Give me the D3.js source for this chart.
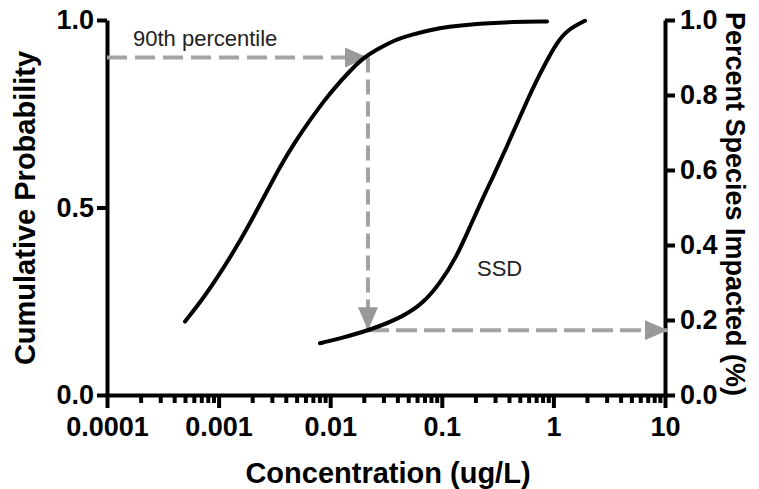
<!DOCTYPE html>
<html lang="en">
<head>
  <meta charset="UTF-8">
  <title>SSD chart</title>
  <style>
    body { margin: 0; background: #fff; }
    text { font-family: "Liberation Sans", Arial, Helvetica, sans-serif; }
  </style>
</head>
<body>
  <div id="svg"></div>
<script src="https://cdn.jsdelivr.net/npm/d3@7"></script>
<script type="text/javascript">
  // exposure curve (cumulative probability)
  const expConc = [0.0005, 0.00073, 0.00103, 0.00145, 0.00205, 0.0027, 0.00355, 0.00484, 0.00659,
    0.00868, 0.0114, 0.015, 0.0198, 0.0261, 0.0344, 0.0394, 0.0556, 0.0784, 0.1106, 0.22, 0.434, 0.877]
  const expProb = [0.196, 0.258, 0.324, 0.395, 0.475, 0.542, 0.609, 0.675, 0.733,
    0.782, 0.825, 0.864, 0.899, 0.921, 0.940, 0.948, 0.962, 0.973, 0.982, 0.991, 0.995, 0.996]

  // species sensitivity distribution
  const ssdConc = [0.0081, 0.01225, 0.0228, 0.0452, 0.0682, 0.0964, 0.136, 0.179, 0.236, 0.288,
    0.382, 0.502, 0.661, 0.877, 1.07, 1.32, 1.92]
  const ssdFrac = [0.138, 0.151, 0.173, 0.209, 0.245, 0.298, 0.369, 0.449, 0.529, 0.582,
    0.662, 0.742, 0.822, 0.893, 0.938, 0.973, 0.998]

  // 90th percentile read-off
  const p90 = 0.9
  const p90Conc = 0.0218
  const p90Impacted = 0.173

  const xMajor = [0.0001, 0.001, 0.01, 0.1, 1, 10]
  const xMajorLabels = ["0.0001", "0.001", "0.01", "0.1", "1", "10"]
  const leftTicks = [0, 0.5, 1.0]
  const rightTicks = [0, 0.2, 0.4, 0.6, 0.8, 1.0]

  const width = 759
  const height = 489
  const svg = d3.select("#svg").append("svg").attr("width", width).attr("height", height)

  const x = d3.scaleLog().domain([0.0001, 10]).range([107, 665])
  const yL = d3.scaleLinear().domain([0, 1]).range([395, 20])
  const yR = d3.scaleLinear().domain([0, 1]).range([395, 20])

  // minor ticks 2..9 in every decade
  const xMinor = []
  for (let e = -4; e < 1; e++) {
    for (let m = 2; m <= 9; m++) xMinor.push(m * Math.pow(10, e))
  }

  const styleAxis = (g, size) => {
    g.selectAll("path, line").attr("stroke", "#000").attr("stroke-width", 4)
    g.selectAll("text").attr("fill", "#000").attr("font-size", size + "px").attr("font-weight", "bold")
      .style("font-family", "'Liberation Sans', Arial, sans-serif")
  }

  // x axis
  svg.append("g").attr("transform", "translate(0,395)")
    .call(d3.axisBottom(x).tickValues(xMinor).tickSize(8).tickFormat(""))
    .call(g => g.select(".domain").remove())
    .call(g => styleAxis(g, 27))
  svg.append("g").attr("transform", "translate(0,395)")
    .call(d3.axisBottom(x).tickValues(xMajor).tickSize(13).tickSizeOuter(0).tickPadding(9)
      .tickFormat((d, i) => xMajorLabels[i]))
    .call(g => styleAxis(g, 27))

  // left axis
  svg.append("g").attr("transform", "translate(107,0)")
    .call(d3.axisLeft(yL).tickValues(leftTicks).tickSize(10).tickSizeOuter(0).tickPadding(3)
      .tickFormat(d3.format(".1f")))
    .call(g => styleAxis(g, 27))

  // right axis
  svg.append("g").attr("transform", "translate(665,0)")
    .call(d3.axisRight(yR).tickValues(rightTicks).tickSize(10).tickSizeOuter(0).tickPadding(5)
      .tickFormat(d3.format(".1f")))
    .call(g => styleAxis(g, 27))

  // axis titles
  svg.append("text").attr("x", 388).attr("y", 483).attr("text-anchor", "middle")
    .attr("font-size", "29px").attr("font-weight", "bold").text("Concentration (ug/L)")
  svg.append("text").attr("transform", "translate(35,208) rotate(-90)").attr("text-anchor", "middle")
    .attr("font-size", "29px").attr("font-weight", "bold").text("Cumulative Probability")
  svg.append("text").attr("transform", "translate(726,204) rotate(90)").attr("text-anchor", "middle")
    .attr("font-size", "27px").attr("font-weight", "bold").text("Percent Species Impacted (%)")

  // arrow marker
  svg.append("defs").append("marker")
    .attr("id", "head").attr("markerUnits", "userSpaceOnUse")
    .attr("viewBox", "0 -10 24 20").attr("markerWidth", 24).attr("markerHeight", 20)
    .attr("refX", 23).attr("refY", 0).attr("orient", "auto")
    .append("path").attr("d", "M0,-10L23,0L0,10Z").attr("fill", "#999")

  // dashed read-off lines
  const arrows = [
    {x1: x(0.0001), y1: yL(p90), x2: x(p90Conc), y2: yL(p90), dash: "20,8"},
    {x1: x(p90Conc), y1: yL(p90), x2: x(p90Conc), y2: yL(p90Impacted), dash: "15,7"},
    {x1: x(p90Conc), y1: yR(p90Impacted), x2: x(10) + 3, y2: yR(p90Impacted), dash: "21,7"}
  ]
  svg.selectAll("line.arrow").data(arrows).enter().append("line")
    .attr("class", "arrow")
    .attr("x1", d => d.x1).attr("y1", d => d.y1)
    .attr("x2", d => d.x2).attr("y2", d => d.y2)
    .attr("stroke", "#a3a3a3").attr("stroke-width", 4)
    .attr("stroke-dasharray", d => d.dash)
    .attr("marker-end", "url(#head)")

  // curves
  const line = d3.line().x(d => x(d[0])).y(d => yL(d[1])).curve(d3.curveBasis)
  svg.append("path").datum(expConc.map((c, i) => [c, expProb[i]]))
    .attr("d", line).attr("fill", "none").attr("stroke", "#000").attr("stroke-width", 4)
    .attr("stroke-linecap", "round")
  svg.append("path").datum(ssdConc.map((c, i) => [c, ssdFrac[i]]))
    .attr("d", line).attr("fill", "none").attr("stroke", "#000").attr("stroke-width", 4)
    .attr("stroke-linecap", "round")

  // labels
  svg.append("text").attr("x", x(0.0001) + 26).attr("y", yL(p90) - 12)
    .attr("font-size", "22px").attr("fill", "#222").text("90th percentile")
  svg.append("text").attr("x", 477).attr("y", 276)
    .attr("font-size", "22px").attr("fill", "#222").text("SSD")
</script>
</body>
</html>
